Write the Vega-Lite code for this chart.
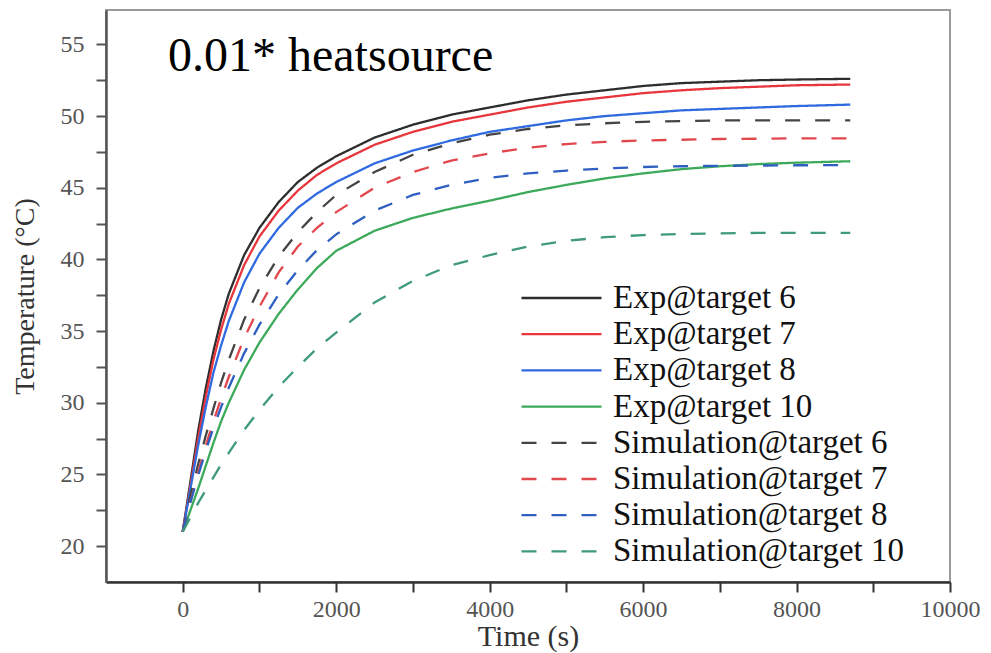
{
  "$schema": "https://vega.github.io/schema/vega-lite/v6.json",
  "width": 844,
  "height": 572,
  "autosize": {"type": "none"},
  "padding": {"left": 106, "top": 10, "right": 41, "bottom": 71},
  "background": "white",
  "config": {
    "font": "Liberation Serif",
    "view": {"stroke": "#9a9a9a", "strokeWidth": 2}
  },
  "title": {
    "text": "0.01* heatsource",
    "anchor": "start",
    "frame": "group",
    "orient": "top",
    "fontSize": 48,
    "fontWeight": "normal",
    "color": "#000000",
    "baseline": "alphabetic",
    "offset": 0,
    "dx": 62,
    "dy": 109
  },
  "data": {
    "values": [
      {"series": "Exp@target 6", "time": 0, "temp": 21.0},
      {"series": "Exp@target 6", "time": 100, "temp": 24.5},
      {"series": "Exp@target 6", "time": 200, "temp": 28.0},
      {"series": "Exp@target 6", "time": 300, "temp": 31.0},
      {"series": "Exp@target 6", "time": 400, "temp": 33.6},
      {"series": "Exp@target 6", "time": 500, "temp": 35.8},
      {"series": "Exp@target 6", "time": 600, "temp": 37.6},
      {"series": "Exp@target 6", "time": 800, "temp": 40.3},
      {"series": "Exp@target 6", "time": 1000, "temp": 42.2},
      {"series": "Exp@target 6", "time": 1250, "temp": 44.0},
      {"series": "Exp@target 6", "time": 1500, "temp": 45.4},
      {"series": "Exp@target 6", "time": 1750, "temp": 46.4},
      {"series": "Exp@target 6", "time": 2000, "temp": 47.2},
      {"series": "Exp@target 6", "time": 2500, "temp": 48.5},
      {"series": "Exp@target 6", "time": 3000, "temp": 49.4},
      {"series": "Exp@target 6", "time": 3500, "temp": 50.1},
      {"series": "Exp@target 6", "time": 4000, "temp": 50.6},
      {"series": "Exp@target 6", "time": 4500, "temp": 51.1},
      {"series": "Exp@target 6", "time": 5000, "temp": 51.5},
      {"series": "Exp@target 6", "time": 5500, "temp": 51.8},
      {"series": "Exp@target 6", "time": 6000, "temp": 52.1},
      {"series": "Exp@target 6", "time": 6500, "temp": 52.3},
      {"series": "Exp@target 6", "time": 7000, "temp": 52.4},
      {"series": "Exp@target 6", "time": 7500, "temp": 52.5},
      {"series": "Exp@target 6", "time": 8000, "temp": 52.55},
      {"series": "Exp@target 6", "time": 8700, "temp": 52.6},

      {"series": "Exp@target 7", "time": 0, "temp": 21.0},
      {"series": "Exp@target 7", "time": 100, "temp": 24.2},
      {"series": "Exp@target 7", "time": 200, "temp": 27.5},
      {"series": "Exp@target 7", "time": 300, "temp": 30.4},
      {"series": "Exp@target 7", "time": 400, "temp": 33.0},
      {"series": "Exp@target 7", "time": 500, "temp": 35.1},
      {"series": "Exp@target 7", "time": 600, "temp": 36.9},
      {"series": "Exp@target 7", "time": 800, "temp": 39.6},
      {"series": "Exp@target 7", "time": 1000, "temp": 41.6},
      {"series": "Exp@target 7", "time": 1250, "temp": 43.4},
      {"series": "Exp@target 7", "time": 1500, "temp": 44.8},
      {"series": "Exp@target 7", "time": 1750, "temp": 45.9},
      {"series": "Exp@target 7", "time": 2000, "temp": 46.7},
      {"series": "Exp@target 7", "time": 2500, "temp": 48.0},
      {"series": "Exp@target 7", "time": 3000, "temp": 48.9},
      {"series": "Exp@target 7", "time": 3500, "temp": 49.6},
      {"series": "Exp@target 7", "time": 4000, "temp": 50.1},
      {"series": "Exp@target 7", "time": 4500, "temp": 50.6},
      {"series": "Exp@target 7", "time": 5000, "temp": 51.0},
      {"series": "Exp@target 7", "time": 5500, "temp": 51.3},
      {"series": "Exp@target 7", "time": 6000, "temp": 51.6},
      {"series": "Exp@target 7", "time": 6500, "temp": 51.8},
      {"series": "Exp@target 7", "time": 7000, "temp": 51.95},
      {"series": "Exp@target 7", "time": 7500, "temp": 52.05},
      {"series": "Exp@target 7", "time": 8000, "temp": 52.15},
      {"series": "Exp@target 7", "time": 8700, "temp": 52.2},

      {"series": "Exp@target 8", "time": 0, "temp": 21.0},
      {"series": "Exp@target 8", "time": 100, "temp": 24.0},
      {"series": "Exp@target 8", "time": 200, "temp": 27.0},
      {"series": "Exp@target 8", "time": 300, "temp": 29.7},
      {"series": "Exp@target 8", "time": 400, "temp": 32.1},
      {"series": "Exp@target 8", "time": 500, "temp": 34.0},
      {"series": "Exp@target 8", "time": 600, "temp": 35.7},
      {"series": "Exp@target 8", "time": 800, "temp": 38.4},
      {"series": "Exp@target 8", "time": 1000, "temp": 40.4},
      {"series": "Exp@target 8", "time": 1250, "temp": 42.2},
      {"series": "Exp@target 8", "time": 1500, "temp": 43.6},
      {"series": "Exp@target 8", "time": 1750, "temp": 44.6},
      {"series": "Exp@target 8", "time": 2000, "temp": 45.4},
      {"series": "Exp@target 8", "time": 2500, "temp": 46.7},
      {"series": "Exp@target 8", "time": 3000, "temp": 47.6},
      {"series": "Exp@target 8", "time": 3500, "temp": 48.3},
      {"series": "Exp@target 8", "time": 4000, "temp": 48.9},
      {"series": "Exp@target 8", "time": 4500, "temp": 49.3},
      {"series": "Exp@target 8", "time": 5000, "temp": 49.7},
      {"series": "Exp@target 8", "time": 5500, "temp": 50.0},
      {"series": "Exp@target 8", "time": 6000, "temp": 50.2},
      {"series": "Exp@target 8", "time": 6500, "temp": 50.4},
      {"series": "Exp@target 8", "time": 7000, "temp": 50.5},
      {"series": "Exp@target 8", "time": 7500, "temp": 50.6},
      {"series": "Exp@target 8", "time": 8000, "temp": 50.7},
      {"series": "Exp@target 8", "time": 8700, "temp": 50.8},

      {"series": "Exp@target 10", "time": 0, "temp": 21.0},
      {"series": "Exp@target 10", "time": 100, "temp": 22.5},
      {"series": "Exp@target 10", "time": 200, "temp": 24.0},
      {"series": "Exp@target 10", "time": 300, "temp": 25.6},
      {"series": "Exp@target 10", "time": 400, "temp": 27.2},
      {"series": "Exp@target 10", "time": 500, "temp": 28.7},
      {"series": "Exp@target 10", "time": 600, "temp": 30.0},
      {"series": "Exp@target 10", "time": 800, "temp": 32.3},
      {"series": "Exp@target 10", "time": 1000, "temp": 34.2},
      {"series": "Exp@target 10", "time": 1250, "temp": 36.2},
      {"series": "Exp@target 10", "time": 1500, "temp": 37.9},
      {"series": "Exp@target 10", "time": 1750, "temp": 39.4},
      {"series": "Exp@target 10", "time": 2000, "temp": 40.6},
      {"series": "Exp@target 10", "time": 2500, "temp": 42.0},
      {"series": "Exp@target 10", "time": 3000, "temp": 42.9},
      {"series": "Exp@target 10", "time": 3500, "temp": 43.55},
      {"series": "Exp@target 10", "time": 4000, "temp": 44.1},
      {"series": "Exp@target 10", "time": 4500, "temp": 44.7},
      {"series": "Exp@target 10", "time": 5000, "temp": 45.2},
      {"series": "Exp@target 10", "time": 5500, "temp": 45.65},
      {"series": "Exp@target 10", "time": 6000, "temp": 46.0},
      {"series": "Exp@target 10", "time": 6500, "temp": 46.3},
      {"series": "Exp@target 10", "time": 7000, "temp": 46.5},
      {"series": "Exp@target 10", "time": 7500, "temp": 46.65},
      {"series": "Exp@target 10", "time": 8000, "temp": 46.75},
      {"series": "Exp@target 10", "time": 8700, "temp": 46.85},

      {"series": "Simulation@target 6", "time": 0, "temp": 21.0},
      {"series": "Simulation@target 6", "time": 100, "temp": 23.5},
      {"series": "Simulation@target 6", "time": 200, "temp": 25.7},
      {"series": "Simulation@target 6", "time": 300, "temp": 27.7},
      {"series": "Simulation@target 6", "time": 400, "temp": 29.6},
      {"series": "Simulation@target 6", "time": 500, "temp": 31.4},
      {"series": "Simulation@target 6", "time": 600, "temp": 33.0},
      {"series": "Simulation@target 6", "time": 800, "temp": 35.8},
      {"series": "Simulation@target 6", "time": 1000, "temp": 38.0},
      {"series": "Simulation@target 6", "time": 1250, "temp": 40.2},
      {"series": "Simulation@target 6", "time": 1500, "temp": 41.9},
      {"series": "Simulation@target 6", "time": 1750, "temp": 43.3},
      {"series": "Simulation@target 6", "time": 2000, "temp": 44.5},
      {"series": "Simulation@target 6", "time": 2500, "temp": 46.1},
      {"series": "Simulation@target 6", "time": 3000, "temp": 47.3},
      {"series": "Simulation@target 6", "time": 3500, "temp": 48.1},
      {"series": "Simulation@target 6", "time": 4000, "temp": 48.7},
      {"series": "Simulation@target 6", "time": 4500, "temp": 49.1},
      {"series": "Simulation@target 6", "time": 5000, "temp": 49.35},
      {"series": "Simulation@target 6", "time": 5500, "temp": 49.5},
      {"series": "Simulation@target 6", "time": 6000, "temp": 49.6},
      {"series": "Simulation@target 6", "time": 6500, "temp": 49.65},
      {"series": "Simulation@target 6", "time": 7000, "temp": 49.7},
      {"series": "Simulation@target 6", "time": 7500, "temp": 49.7},
      {"series": "Simulation@target 6", "time": 8000, "temp": 49.7},
      {"series": "Simulation@target 6", "time": 8700, "temp": 49.7},

      {"series": "Simulation@target 7", "time": 0, "temp": 21.0},
      {"series": "Simulation@target 7", "time": 100, "temp": 23.1},
      {"series": "Simulation@target 7", "time": 200, "temp": 25.1},
      {"series": "Simulation@target 7", "time": 300, "temp": 27.0},
      {"series": "Simulation@target 7", "time": 400, "temp": 28.7},
      {"series": "Simulation@target 7", "time": 500, "temp": 30.3},
      {"series": "Simulation@target 7", "time": 600, "temp": 31.8},
      {"series": "Simulation@target 7", "time": 800, "temp": 34.5},
      {"series": "Simulation@target 7", "time": 1000, "temp": 36.7},
      {"series": "Simulation@target 7", "time": 1250, "temp": 39.1},
      {"series": "Simulation@target 7", "time": 1500, "temp": 40.9},
      {"series": "Simulation@target 7", "time": 1750, "temp": 42.2},
      {"series": "Simulation@target 7", "time": 2000, "temp": 43.3},
      {"series": "Simulation@target 7", "time": 2500, "temp": 45.0},
      {"series": "Simulation@target 7", "time": 3000, "temp": 46.1},
      {"series": "Simulation@target 7", "time": 3500, "temp": 46.9},
      {"series": "Simulation@target 7", "time": 4000, "temp": 47.4},
      {"series": "Simulation@target 7", "time": 4500, "temp": 47.8},
      {"series": "Simulation@target 7", "time": 5000, "temp": 48.05},
      {"series": "Simulation@target 7", "time": 5500, "temp": 48.2},
      {"series": "Simulation@target 7", "time": 6000, "temp": 48.3},
      {"series": "Simulation@target 7", "time": 6500, "temp": 48.35},
      {"series": "Simulation@target 7", "time": 7000, "temp": 48.4},
      {"series": "Simulation@target 7", "time": 7500, "temp": 48.42},
      {"series": "Simulation@target 7", "time": 8000, "temp": 48.45},
      {"series": "Simulation@target 7", "time": 8700, "temp": 48.45},

      {"series": "Simulation@target 8", "time": 0, "temp": 21.0},
      {"series": "Simulation@target 8", "time": 100, "temp": 23.05},
      {"series": "Simulation@target 8", "time": 200, "temp": 24.9},
      {"series": "Simulation@target 8", "time": 300, "temp": 26.65},
      {"series": "Simulation@target 8", "time": 400, "temp": 28.25},
      {"series": "Simulation@target 8", "time": 500, "temp": 29.7},
      {"series": "Simulation@target 8", "time": 600, "temp": 31.05},
      {"series": "Simulation@target 8", "time": 800, "temp": 33.45},
      {"series": "Simulation@target 8", "time": 1000, "temp": 35.45},
      {"series": "Simulation@target 8", "time": 1250, "temp": 37.55},
      {"series": "Simulation@target 8", "time": 1500, "temp": 39.25},
      {"series": "Simulation@target 8", "time": 1750, "temp": 40.65},
      {"series": "Simulation@target 8", "time": 2000, "temp": 41.75},
      {"series": "Simulation@target 8", "time": 2500, "temp": 43.4},
      {"series": "Simulation@target 8", "time": 3000, "temp": 44.5},
      {"series": "Simulation@target 8", "time": 3500, "temp": 45.2},
      {"series": "Simulation@target 8", "time": 4000, "temp": 45.7},
      {"series": "Simulation@target 8", "time": 4500, "temp": 46.0},
      {"series": "Simulation@target 8", "time": 5000, "temp": 46.2},
      {"series": "Simulation@target 8", "time": 5500, "temp": 46.35},
      {"series": "Simulation@target 8", "time": 6000, "temp": 46.45},
      {"series": "Simulation@target 8", "time": 6500, "temp": 46.5},
      {"series": "Simulation@target 8", "time": 7000, "temp": 46.53},
      {"series": "Simulation@target 8", "time": 7500, "temp": 46.55},
      {"series": "Simulation@target 8", "time": 8000, "temp": 46.57},
      {"series": "Simulation@target 8", "time": 8700, "temp": 46.58},

      {"series": "Simulation@target 10", "time": 0, "temp": 21.0},
      {"series": "Simulation@target 10", "time": 100, "temp": 22.0},
      {"series": "Simulation@target 10", "time": 200, "temp": 23.0},
      {"series": "Simulation@target 10", "time": 300, "temp": 23.9},
      {"series": "Simulation@target 10", "time": 400, "temp": 24.8},
      {"series": "Simulation@target 10", "time": 500, "temp": 25.7},
      {"series": "Simulation@target 10", "time": 600, "temp": 26.5},
      {"series": "Simulation@target 10", "time": 800, "temp": 28.1},
      {"series": "Simulation@target 10", "time": 1000, "temp": 29.5},
      {"series": "Simulation@target 10", "time": 1250, "temp": 31.1},
      {"series": "Simulation@target 10", "time": 1500, "temp": 32.5},
      {"series": "Simulation@target 10", "time": 1750, "temp": 33.8},
      {"series": "Simulation@target 10", "time": 2000, "temp": 34.9},
      {"series": "Simulation@target 10", "time": 2500, "temp": 37.0},
      {"series": "Simulation@target 10", "time": 3000, "temp": 38.5},
      {"series": "Simulation@target 10", "time": 3500, "temp": 39.6},
      {"series": "Simulation@target 10", "time": 4000, "temp": 40.3},
      {"series": "Simulation@target 10", "time": 4500, "temp": 40.9},
      {"series": "Simulation@target 10", "time": 5000, "temp": 41.3},
      {"series": "Simulation@target 10", "time": 5500, "temp": 41.55},
      {"series": "Simulation@target 10", "time": 6000, "temp": 41.7},
      {"series": "Simulation@target 10", "time": 6500, "temp": 41.78},
      {"series": "Simulation@target 10", "time": 7000, "temp": 41.82},
      {"series": "Simulation@target 10", "time": 7500, "temp": 41.85},
      {"series": "Simulation@target 10", "time": 8000, "temp": 41.85},
      {"series": "Simulation@target 10", "time": 8700, "temp": 41.85}
    ]
  },
  "mark": {"type": "line", "strokeWidth": 2.3, "clip": true},
  "encoding": {
    "x": {
      "field": "time",
      "type": "quantitative",
      "scale": {"domain": [-1000, 10000], "nice": false, "zero": false},
      "axis": {
        "title": "Time (s)",
        "values": [0, 1000, 2000, 3000, 4000, 5000, 6000, 7000, 8000, 9000, 10000],
        "format": "d",
        "labelExpr": "datum.value % 2000 === 0 ? datum.label : ''",
        "grid": false,
        "domainColor": "#333333",
        "domainWidth": 2.5,
        "tickColor": "#333333",
        "tickWidth": 2,
        "tickSize": 10,
        "labelFontSize": 24,
        "labelColor": "#555555",
        "labelPadding": 5,
        "labelFlush": false,
        "labelOverlap": false,
        "titleFontSize": 30,
        "titleFontWeight": "normal",
        "titleColor": "#333333",
        "titlePadding": 0,
        "encode": {"ticks": {"update": {"y2": {"signal": "datum.value % 2000 === 0 ? 10 : 5"}}}}
      }
    },
    "y": {
      "field": "temp",
      "type": "quantitative",
      "scale": {"domain": [17.5, 57.4], "nice": false, "zero": false},
      "axis": {
        "title": "Temperature (°C)",
        "values": [20, 22.5, 25, 27.5, 30, 32.5, 35, 37.5, 40, 42.5, 45, 47.5, 50, 52.5, 55],
        "labelExpr": "datum.value % 5 === 0 ? datum.label : ''",
        "grid": false,
        "domainColor": "#555555",
        "domainWidth": 2.5,
        "tickColor": "#555555",
        "tickWidth": 2,
        "tickSize": 10,
        "labelFontSize": 24,
        "labelColor": "#555555",
        "labelPadding": 12,
        "labelFlush": false,
        "labelOverlap": false,
        "titleFontSize": 28,
        "titleFontWeight": "normal",
        "titleColor": "#333333",
        "titleX": -67,
        "titleY": 286,
        "titleBaseline": "bottom",
        "encode": {"ticks": {"update": {"x2": {"signal": "datum.value % 5 === 0 ? -10 : -5"}}}}
      }
    },
    "color": {
      "field": "series",
      "type": "nominal",
      "scale": {
        "domain": ["Exp@target 6", "Exp@target 7", "Exp@target 8", "Exp@target 10", "Simulation@target 6", "Simulation@target 7", "Simulation@target 8", "Simulation@target 10"],
        "range": ["#2d2d2d", "#e8363c", "#2f6ae0", "#3caa5a", "#444444", "#e2474d", "#2f5fc0", "#3f9a7c"]
      },
      "legend": {
        "title": null,
        "orient": "none",
        "legendX": 414,
        "legendY": 272,
        "symbolType": "stroke",
        "symbolSize": 6400,
        "symbolStrokeWidth": 2.3,
        "labelFontSize": 33,
        "labelColor": "#111111",
        "labelLimit": 500,
        "labelOffset": 10,
        "clipHeight": 32,
        "rowPadding": 3.2,
        "padding": 0,
        "symbolOffset": 0
      }
    },
    "strokeDash": {
      "field": "series",
      "type": "nominal",
      "scale": {
        "domain": ["Exp@target 6", "Exp@target 7", "Exp@target 8", "Exp@target 10", "Simulation@target 6", "Simulation@target 7", "Simulation@target 8", "Simulation@target 10"],
        "range": [[1, 0], [1, 0], [1, 0], [1, 0], [15, 15], [15, 15], [15, 15], [15, 15]]
      }
    }
  }
}
